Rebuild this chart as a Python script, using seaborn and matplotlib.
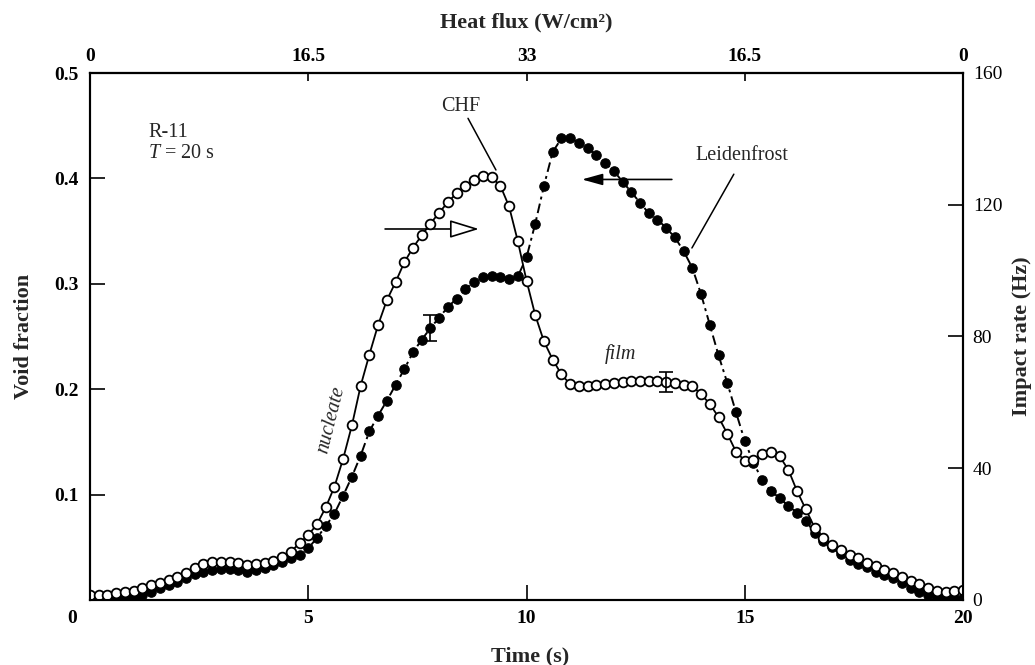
import numpy as np
import pandas as pd
import matplotlib
matplotlib.use("Agg")
import matplotlib.pyplot as plt
import matplotlib.transforms as mtransforms
import seaborn as sns

# Sampling times of the quench record (s)
time_s = np.round(np.arange(0, 20.001, 0.2), 1)

# Void fraction (filled circles, left axis)
void_fraction = [
    0.002, 0.001, 0.001, 0.001, 0.002, 0.003, 0.005, 0.008, 0.011, 0.014,
    0.017, 0.021, 0.025, 0.027, 0.028, 0.029, 0.029, 0.028, 0.027, 0.028,
    0.030, 0.033, 0.036, 0.040, 0.043, 0.049, 0.059, 0.070, 0.082, 0.099,
    0.117, 0.137, 0.160, 0.175, 0.189, 0.204, 0.219, 0.235, 0.247, 0.258,
    0.268, 0.278, 0.286, 0.295, 0.302, 0.306, 0.307, 0.306, 0.305, 0.307,
    0.325, 0.357, 0.393, 0.425, 0.438, 0.438, 0.434, 0.429, 0.422, 0.415,
    0.407, 0.397, 0.387, 0.377, 0.367, 0.361, 0.353, 0.344, 0.331, 0.315,
    0.290, 0.261, 0.232, 0.206, 0.178, 0.151, 0.130, 0.114, 0.103, 0.097,
    0.089, 0.083, 0.075, 0.064, 0.056, 0.050, 0.044, 0.038, 0.034, 0.031,
    0.027, 0.024, 0.021, 0.016, 0.011, 0.0075, 0.005, 0.003, 0.002, 0.002,
    0.002,
]

# Impact rate (open circles, right axis), Hz
impact_rate_hz = [
    1.5, 1.5, 1.5, 2.0, 2.4, 2.8, 3.5, 4.5, 5.3, 6.0,
    7.0, 8.3, 9.6, 10.9, 11.4, 11.6, 11.5, 11.1, 10.6, 10.8,
    11.1, 11.8, 13.1, 14.7, 17.2, 19.7, 23.0, 28.1, 34.4, 42.9,
    53.0, 65.0, 74.5, 83.5, 91.0, 96.5, 102.5, 107.0, 110.7, 114.3,
    117.6, 120.8, 123.5, 125.6, 127.6, 128.8, 128.3, 125.8, 119.5, 109.0,
    97.0, 86.5, 78.5, 73.0, 68.5, 65.5, 65.0, 65.0, 65.2, 65.5,
    65.8, 66.2, 66.5, 66.6, 66.6, 66.4, 66.2, 66.0, 65.4, 64.9,
    62.5, 59.5, 55.5, 50.5, 45.0, 42.3, 42.4, 44.4, 45.0, 43.6,
    39.5, 33.0, 27.5, 22.0, 18.8, 16.8, 15.2, 13.7, 12.6, 11.3,
    10.2, 9.2, 8.1, 6.9, 5.9, 4.8, 3.6, 2.8, 2.5, 2.8,
    3.0,
]

# Axis ticks and labels
time_ticks = [0, 5, 10, 15, 20]
time_tick_labels = ["0", "5", "10", "15", "20"]
heat_flux_labels = ["0", "16.5", "33", "16.5", "0"]
void_ticks = [0.1, 0.2, 0.3, 0.4, 0.5]
void_tick_labels = ["0.1", "0.2", "0.3", "0.4", "0.5"]
rate_ticks = [0, 40, 80, 120, 160]
rate_tick_labels = ["0", "40", "80", "120", "160"]

# Representative scatter bars
void_err_time = [7.8]
void_err_half = [0.012]
rate_err_time = [13.2]
rate_err_half = [3.0]

sns.set_style("ticks")
plt.rcParams["font.family"] = ["Liberation Serif", "DejaVu Serif"]
plt.rcParams["mathtext.fontset"] = "custom"
plt.rcParams["mathtext.rm"] = "Liberation Serif"
plt.rcParams["mathtext.it"] = "Liberation Serif:italic"
plt.rcParams["mathtext.bf"] = "Liberation Serif:bold"

TICK_FS = 14
LABEL_FS = 16
NOTE_FS = 14.5

df = pd.DataFrame({"time": time_s, "void": void_fraction, "rate": impact_rate_hz})

fig = plt.figure(figsize=(10.35, 6.65), dpi=100)
ax = fig.add_axes([90 / 1035, 65 / 665, 873 / 1035, 527 / 665])
ax2 = ax.twinx()

sns.lineplot(data=df, x="time", y="void", ax=ax, estimator=None, sort=False,
             color="black", linewidth=1.4, linestyle=(0, (5, 2.2, 1.5, 2.2)),
             marker="o", markersize=6.8, markerfacecolor="black",
             markeredgecolor="black", markeredgewidth=0.8)
sns.lineplot(data=df, x="time", y="rate", ax=ax2, estimator=None, sort=False,
             color="black", linewidth=1.3, linestyle="-",
             marker="o", markersize=7, markerfacecolor="white",
             markeredgecolor="black", markeredgewidth=1.3)

# Scatter bars drawn on the series values at the given times
void_err_vals = [df.loc[np.isclose(df["time"], t), "void"].iloc[0] for t in void_err_time]
rate_err_vals = [df.loc[np.isclose(df["time"], t), "rate"].iloc[0] for t in rate_err_time]
ax.errorbar(void_err_time, void_err_vals, yerr=void_err_half, fmt="none",
            ecolor="black", elinewidth=1.2, capsize=5, capthick=1.2, zorder=5)
ax2.errorbar(rate_err_time, rate_err_vals, yerr=rate_err_half, fmt="none",
             ecolor="black", elinewidth=1.2, capsize=5, capthick=1.2, zorder=5)

ax.set_xlim(0, 20)
ax.set_ylim(0, 0.5)
ax2.set_ylim(0, 160)

ax.set_xticks(time_ticks, time_tick_labels)
ax.set_yticks(void_ticks, void_tick_labels)
ax2.set_yticks(rate_ticks, rate_tick_labels)

top = ax.secondary_xaxis("top")
top.set_xticks(time_ticks, heat_flux_labels)

for a in (ax, ax2):
    for sp in a.spines.values():
        sp.set_linewidth(1.5)
        sp.set_color("black")
for sp in top.spines.values():
    sp.set_linewidth(1.5)

ax.tick_params(axis="x", direction="in", length=11, width=1.2,
               labelsize=TICK_FS, pad=7, colors="black")
ax.tick_params(axis="y", direction="in", length=11, width=1.2,
               labelsize=TICK_FS, pad=8, colors="black")
ax2.tick_params(axis="y", direction="in", length=11, width=1.2,
                labelsize=TICK_FS, pad=7, colors="black")
top.tick_params(axis="x", direction="in", length=6, width=1.2,
                labelsize=TICK_FS, pad=6, colors="black")

for lbl in ax.get_xticklabels() + ax.get_yticklabels() + top.get_xticklabels():
    lbl.set_fontweight("bold")

# Corner label for t = 0 sits left of the spine
shift = mtransforms.ScaledTranslation(-0.18, 0, fig.dpi_scale_trans)
first = ax.get_xticklabels()[0]
first.set_transform(first.get_transform() + shift)

ax.set_xlabel("Time (s)", fontsize=LABEL_FS, fontweight="bold", va="center")
ax.xaxis.set_label_coords(0.504, -0.108)
ax.set_ylabel("Void fraction", fontsize=LABEL_FS, fontweight="bold", va="center")
ax.yaxis.set_label_coords(-0.076, 0.5)
ax2.set_ylabel("Impact rate (Hz)", fontsize=LABEL_FS, fontweight="bold",
               va="center", rotation=90)
ax2.yaxis.set_label_coords(1.068, 0.5)
fig.text(526 / 1035, 1 - 22 / 665, "Heat flux (W/cm²)", fontsize=LABEL_FS,
         fontweight="bold", ha="center", va="center")

# Annotations
ax.text(1.33, 0.444, "R-11", fontsize=NOTE_FS, ha="left", va="center")
ax.text(1.33, 0.424, "$T$ = 20 s", fontsize=NOTE_FS, ha="left", va="center")
ax.text(8.50, 0.468, "CHF", fontsize=NOTE_FS, ha="center", va="center")
ax.plot([8.66, 9.30], [0.457, 0.408], color="black", lw=1.1)
ax.text(14.94, 0.422, "Leidenfrost", fontsize=NOTE_FS, ha="center", va="center")
ax.plot([14.75, 13.79], [0.404, 0.334], color="black", lw=1.1)
ax.text(12.16, 0.233, "film", fontsize=NOTE_FS, style="italic", ha="center", va="center")
ax.text(5.52, 0.171, "nucleate", fontsize=NOTE_FS, style="italic", ha="center",
        va="center", rotation=76)

ax.annotate("", xy=(8.91, 0.352), xytext=(6.76, 0.352),
            arrowprops=dict(arrowstyle="-|>,head_length=1.3,head_width=0.4",
                            mutation_scale=14, fc="white", ec="black", lw=1.2,
                            shrinkA=0, shrinkB=0))
ax.annotate("", xy=(11.27, 0.399), xytext=(13.33, 0.399),
            arrowprops=dict(arrowstyle="-|>,head_length=0.9,head_width=0.25",
                            mutation_scale=14, fc="black", ec="black", lw=1.2,
                            shrinkA=0, shrinkB=0))

fig.savefig("out.png", dpi=100, facecolor="white")
